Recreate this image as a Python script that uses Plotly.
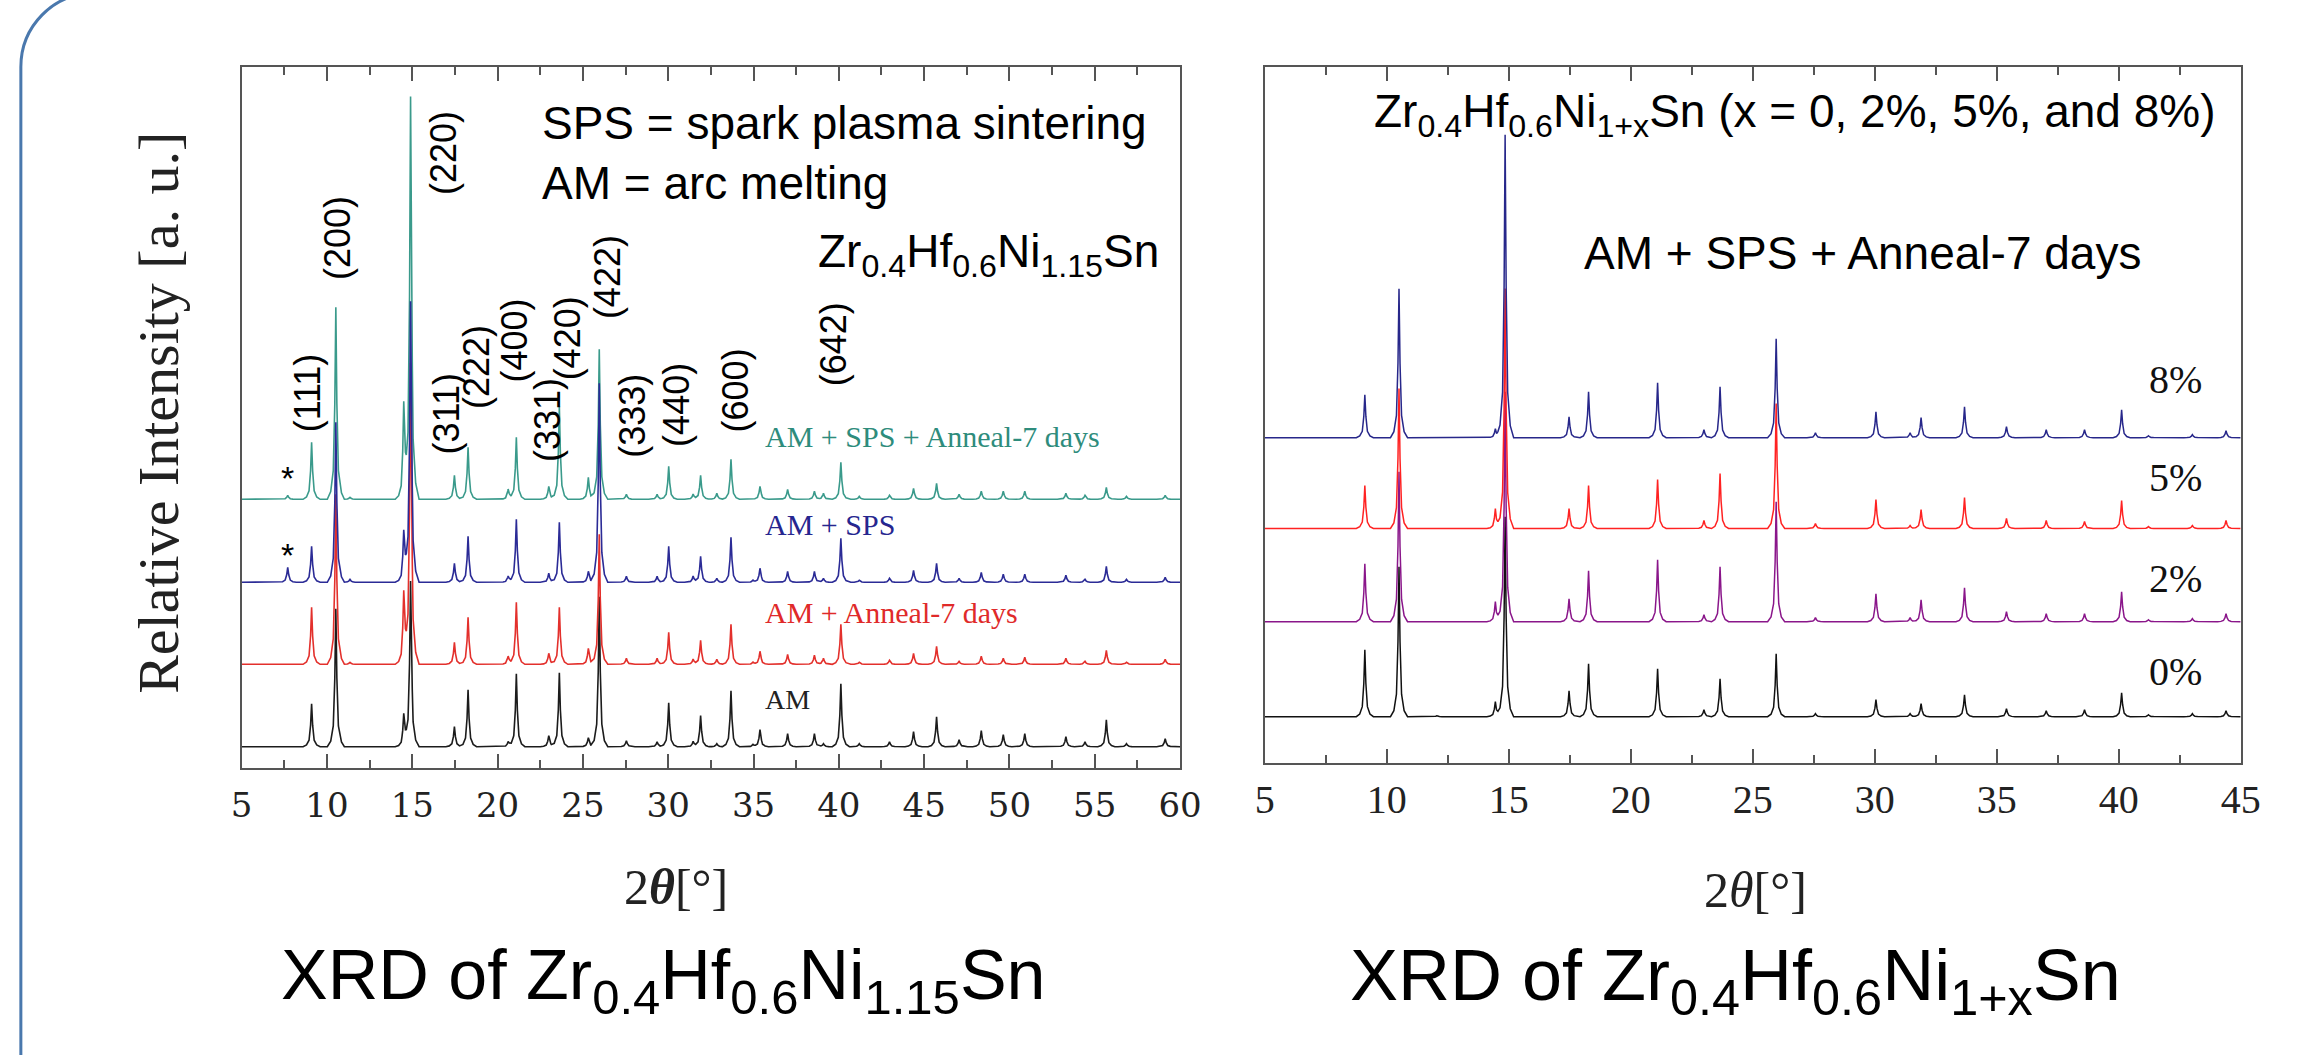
import numpy as np
import plotly.graph_objects as go

W, H = 2309, 1055

# ---------------- data: left panel (Zr0.4Hf0.6Ni1.15Sn, four processing routes) ----------------
L_POS = [7.7, 9.1, 10.52, 11.35, 14.5, 14.9, 17.47, 18.27, 20.62, 21.1, 23.0, 23.62, 25.32, 25.96,
         27.55, 29.35, 30.03, 31.46, 31.9, 32.85, 33.68, 34.97, 35.38, 37.0, 38.57, 39.1, 40.12,
         41.2, 42.97, 44.38, 45.73, 47.05, 48.35, 49.64, 50.9, 53.31, 54.43, 55.68, 56.86, 59.13]
L_AM = [0, 43, 138, 0, 30, 165, 20, 57, 5, 73, 11, 74, 9, 150,
        6, 5, 44, 5, 31, 3, 56, 2, 17, 13, 13, 3, 63,
        3, 5, 15, 30, 7, 16, 12, 13, 10, 5, 27, 3, 8]
L_AM_ANNEAL = [0, 57, 170, 2, 68, 300, 22, 47, 8, 62, 11, 57, 16, 130,
               6, 6, 32, 5, 24, 5, 40, 2, 13, 10, 9, 6, 40,
               2, 4, 11, 18, 3, 8, 6, 7, 6, 3, 14, 2, 5]
L_AM_SPS = [15, 36, 160, 3, 47, 280, 19, 46, 6, 63, 9, 60, 11, 199,
            6, 6, 36, 6, 26, 4, 45, 2, 14, 11, 11, 4, 44,
            2, 4, 12, 19, 4, 10, 8, 8, 7, 3, 16, 3, 5]
L_AM_SPS_ANNEAL = [4, 57, 192, 2, 90, 401, 24, 52, 10, 62, 13, 93, 22, 150,
                   5, 5, 33, 5, 24, 6, 40, 0, 13, 10, 8, 6, 37,
                   3, 4, 11, 16, 5, 8, 8, 8, 6, 4, 12, 3, 4]
L_SERIES = ["AM", "AM + Anneal-7 days", "AM + SPS", "AM + SPS + Anneal-7 days"]
L_TICKS = [5, 10, 15, 20, 25, 30, 35, 40, 45, 50, 55, 60]
HKL_TEXT = ["(111)", "(200)", "(220)", "(311)", "(222)", "(400)", "(331)", "(420)", "(422)",
            "(333)", "(440)", "(600)", "(642)"]

# ---------------- data: right panel (Zr0.4Hf0.6Ni1+xSn, x = 0..8%) ----------------
R_POS = [9.1, 10.5, 12.05, 14.45, 14.85, 17.47, 18.27, 21.1, 23.0, 23.66, 25.96, 27.57, 30.05,
         31.45, 31.9, 33.68, 35.4, 37.03, 38.6, 40.12, 41.22, 43.02, 44.4]
R_X0 = [67, 150, 1, 15, 200, 26, 53, 48, 7, 38, 63, 3, 17, 3, 13, 22, 8, 6, 7, 24, 2, 3, 6]
R_X2 = [58, 150, 0, 20, 230, 23, 51, 62, 7, 55, 120, 4, 28, 4, 22, 34, 10, 8, 8, 30, 2, 3, 8]
R_X5 = [43, 140, 0, 20, 240, 20, 43, 49, 8, 55, 125, 5, 29, 3, 19, 31, 10, 8, 7, 28, 2, 3, 8]
R_X8 = [43, 149, 0, 9, 303, 21, 46, 55, 8, 51, 99, 5, 26, 5, 20, 31, 11, 8, 8, 28, 2, 3, 7]
R_SERIES = ["0%", "2%", "5%", "8%"]
R_TICKS = [5, 10, 15, 20, 25, 30, 35, 40, 45]


def px(x):
    return x / W


def py(y):
    return 1 - y / H


def profile(pos, hts, lo, hi, scale):
    """Draw each read-off peak as a narrow spike on a flat line."""
    dx = np.array([-0.5, -0.3, -0.15, -0.06, 0.0, 0.06, 0.15, 0.3, 0.5]) * scale
    f = np.array([0, 0.04, 0.15, 0.5, 1.0, 0.5, 0.15, 0.04, 0])
    xs = [lo, hi]
    for p in pos:
        xs.extend(p + dx)
    xs = np.unique(np.clip(np.array(xs), lo, hi))
    ys = np.zeros_like(xs)
    for p, h in zip(pos, hts):
        ys += h * np.interp(xs, p + dx, f, left=0, right=0)
    return xs, ys


fig = go.Figure()

# left traces (draw order: teal, black, red, blue)
left_style = [
    (L_AM_SPS_ANNEAL, 268.7, "#3a9a8b", L_SERIES[3]),
    (L_AM, 21.3, "#1c1c1c", L_SERIES[0]),
    (L_AM_ANNEAL, 103.7, "#e3302c", L_SERIES[1]),
    (L_AM_SPS, 185.7, "#2b2b96", L_SERIES[2]),
]
for hts, base, col, name in left_style:
    xs, ys = profile(L_POS, hts, 5, 60, 1.0)
    fig.add_trace(go.Scatter(x=xs, y=ys + base, mode="lines", name=name,
                             line=dict(color=col, width=1.6), xaxis="x", yaxis="y",
                             showlegend=False, hoverinfo="skip"))

right_style = [
    (R_X0, 46.0, "#111111", R_SERIES[0]),
    (R_X2, 141.0, "#8a168a", R_SERIES[1]),
    (R_X5, 234.2, "#ff2222", R_SERIES[2]),
    (R_X8, 325.0, "#27278a", R_SERIES[3]),
]
for hts, base, col, name in right_style:
    xs, ys = profile(R_POS, hts, 5, 45, 0.7)
    fig.add_trace(go.Scatter(x=xs, y=ys + base, mode="lines", name=name,
                             line=dict(color=col, width=1.5), xaxis="x2", yaxis="y2",
                             showlegend=False, hoverinfo="skip"))

frame = "#555555"
common_x = dict(showline=True, linecolor=frame, linewidth=2, mirror="ticks", ticks="inside",
                ticklen=14, tickwidth=1.5, tickcolor=frame, showgrid=False, zeroline=False,
                minor=dict(ticks="inside", ticklen=8, tickwidth=1.5, tickcolor=frame, dtick=2.5,
                           showgrid=False))
common_y = dict(showline=True, linecolor=frame, linewidth=2, mirror=True, ticks="",
                showticklabels=False, showgrid=False, zeroline=False)

fig.update_layout(
    width=W, height=H, margin=dict(l=0, r=0, t=0, b=0),
    paper_bgcolor="white", plot_bgcolor="white",
    xaxis=dict(domain=[px(234), px(1186)], range=[5, 60], anchor="y",
               tickvals=L_TICKS, ticktext=[str(t) for t in L_TICKS],
               tickfont=dict(family="DejaVu Serif", size=34, color="#222"),
               ticklabelstandoff=6, **common_x),
    yaxis=dict(domain=[py(768), py(66.7)], range=[0, 701.3], anchor="x", **common_y),
    xaxis2=dict(domain=[px(1272), px(2262)], range=[5, 45], anchor="y2",
                tickvals=R_TICKS, ticktext=[str(t) for t in R_TICKS],
                tickfont=dict(family="Liberation Serif", size=40, color="#222"),
                ticklabelstandoff=0, **common_x),
    yaxis2=dict(domain=[py(762.7), py(66.7)], range=[0, 696], anchor="x2", **common_y),
)

ann = []


def text(x, y, t, size, family="Liberation Sans", color="black", xanchor="center", angle=0):
    ann.append(dict(x=px(x), y=py(y), xref="paper", yref="paper", text=t, showarrow=False,
                    xanchor=xanchor, yanchor="middle", textangle=angle,
                    font=dict(family=family, size=size, color=color)))


# Miller-index labels (left panel), placed in axis units
HKL_X = [8.85, 10.59, 16.8, 17.0, 18.74, 20.99, 22.9, 24.09, 26.42, 27.86, 30.45, 33.94, 39.68]
HKL_Y = [375, 530, 615, 354, 401, 428, 348, 430, 491, 352, 363, 378, 424]
for t, xv, yv in zip(HKL_TEXT, HKL_X, HKL_Y):
    ann.append(dict(x=xv, y=yv, xref="x", yref="y", text=t, showarrow=False, textangle=-90,
                    xanchor="center", yanchor="middle",
                    font=dict(family="Liberation Sans", size=36, color="black")))
# asterisks
for yv in [290, 213]:
    ann.append(dict(x=7.69, y=yv, xref="x", yref="y", text="*", showarrow=False,
                    font=dict(family="Liberation Sans", size=34, color="black")))

# left panel texts
text(537, 123, "SPS = spark plasma sintering", 46, xanchor="left")
text(537, 183, "AM = arc melting", 46, xanchor="left")
text(817, 255, "Zr<sub>0.4</sub>Hf<sub>0.6</sub>Ni<sub>1.15</sub>Sn", 46, xanchor="left")
text(763, 436, L_SERIES[3], 30, family="Liberation Serif", color="#2e8c7c", xanchor="left")
text(763, 525, L_SERIES[2], 30, family="Liberation Serif", color="#26268f", xanchor="left")
text(763, 612, L_SERIES[1], 30, family="Liberation Serif", color="#e02a2a", xanchor="left")
text(763, 699, L_SERIES[0], 28, family="Liberation Serif", color="#222", xanchor="left")

# right panel texts
text(1810, 114, "Zr<sub>0.4</sub>Hf<sub>0.6</sub>Ni<sub>1+x</sub>Sn (x = 0, 2%, 5%, and 8%)", 46)
text(1878, 253, "AM + SPS + Anneal-7 days", 46)
for lab, yv in zip(R_SERIES, [671, 578, 477, 380]):
    text(2196, yv, lab, 40, family="Liberation Serif", color="#111")

# axis titles
text(150, 413, "Relative Intensity [a. u.]", 58, family="Liberation Serif", color="#222", angle=-90)
text(675, 887, "2<b><i>θ</i></b>[°]", 50, family="Liberation Serif", color="#222")
text(1770, 890, "2<i>θ</i>[°]", 50, family="Liberation Serif", color="#222")

# captions
text(662, 980, "XRD of Zr<sub>0.4</sub>Hf<sub>0.6</sub>Ni<sub>1.15</sub>Sn", 70)
text(1749, 980, "XRD of Zr<sub>0.4</sub>Hf<sub>0.6</sub>Ni<sub>1+x</sub>Sn", 72)

fig.update_layout(annotations=ann)

# rounded slide border at the left
k = 0.5523 * 73.7
path = (f"M {px(10)} {py(1070)} L {px(10)} {py(67)} "
        f"C {px(10)} {py(67 - k)} {px(83.7 - k)} {py(-6.7)} {px(83.7)} {py(-6.7)} "
        f"L {px(2400)} {py(-6.7)}")
fig.add_shape(type="path", path=path, xref="paper", yref="paper",
              line=dict(color="#4a78ad", width=3))

fig.write_html("out.html")
